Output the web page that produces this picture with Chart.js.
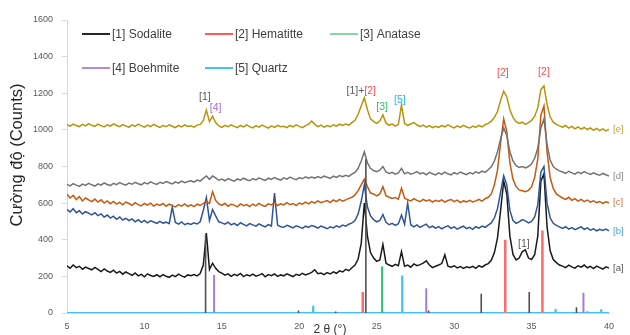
<!DOCTYPE html>
<html>
<head>
<meta charset="utf-8">
<script src="https://cdn.jsdelivr.net/npm/chart.js@4.4.0/dist/chart.umd.min.js"></script>
<style>
  html, body { margin: 0; padding: 0; background: #fff; }
</style>
</head>
<body>
<canvas id="xrd" width="630" height="335"></canvas>
<script>
// 2 theta sampling grid (degrees)
const twoTheta = [
  5, 5.2, 5.4, 5.6, 5.8, 6, 6.2, 6.4, 6.6, 6.8,
  7, 7.2, 7.4, 7.6, 7.8, 8, 8.2, 8.4, 8.6, 8.8,
  9, 9.2, 9.4, 9.6, 9.8, 10, 10.2, 10.4, 10.6, 10.8,
  11, 11.2, 11.4, 11.6, 11.8, 12, 12.2, 12.4, 12.6, 12.8,
  13, 13.2, 13.4, 13.6, 13.8, 14, 14.2, 14.4, 14.6, 14.8,
  15, 15.2, 15.4, 15.6, 15.8, 16, 16.2, 16.4, 16.6, 16.8,
  17, 17.2, 17.4, 17.6, 17.8, 18, 18.2, 18.4, 18.6, 18.8,
  19, 19.2, 19.4, 19.6, 19.8, 20, 20.2, 20.4, 20.6, 20.8,
  21, 21.2, 21.4, 21.6, 21.8, 22, 22.2, 22.4, 22.6, 22.8,
  23, 23.2, 23.4, 23.6, 23.8, 24, 24.2, 24.4, 24.6, 24.8,
  25, 25.2, 25.4, 25.6, 25.8, 26, 26.2, 26.4, 26.6, 26.8,
  27, 27.2, 27.4, 27.6, 27.8, 28, 28.2, 28.4, 28.6, 28.8,
  29, 29.2, 29.4, 29.6, 29.8, 30, 30.2, 30.4, 30.6, 30.8,
  31, 31.2, 31.4, 31.6, 31.8, 32, 32.2, 32.4, 32.6, 32.8,
  33, 33.2, 33.4, 33.6, 33.8, 34, 34.2, 34.4, 34.6, 34.8,
  35, 35.2, 35.4, 35.6, 35.8, 36, 36.2, 36.4, 36.6, 36.8,
  37, 37.2, 37.4, 37.6, 37.8, 38, 38.2, 38.4, 38.6, 38.8,
  39, 39.2, 39.4, 39.6, 39.8, 40
];

// measured patterns, counts
const sampleA = [
  258,244,262,248,255,239,251,243,236,249,
  238,226,241,229,222,234,218,227,212,224,
  215,206,219,203,211,198,214,205,200,209,
  198,210,201,195,207,199,212,203,196,208,
  204,210,203,215,262,437,238,272,244,226,
  218,207,214,200,211,204,216,199,209,203,
  212,201,207,215,198,210,204,213,200,208,
  203,214,206,199,211,205,217,208,214,222,
  236,215,218,209,221,213,225,217,230,224,
  238,231,247,262,295,380,600,420,330,300,
  282,290,375,272,262,255,266,258,335,255,
  262,250,268,258,264,272,285,262,248,255,
  262,270,318,256,250,258,246,254,243,252,
  247,255,244,258,250,262,270,288,330,410,
  560,720,650,420,320,290,300,335,345,300,
  292,318,420,720,760,470,340,292,275,262,
  256,248,261,252,245,258,250,262,247,255,
  243,256,248,240,252,246
];
const sampleB = [
  565,552,570,548,558,541,553,545,536,548,
  532,541,524,535,518,529,512,524,508,517,
  505,514,498,509,495,506,492,503,497,489,
  500,491,496,488,578,494,485,497,482,490,
  484,492,486,498,560,630,505,565,530,498,
  492,485,496,481,490,478,493,484,476,488,
  481,474,487,478,470,483,475,655,480,471,
  468,479,472,465,476,470,462,474,467,478,
  472,464,475,468,460,471,465,476,469,480,
  474,485,492,505,540,610,700,580,530,510,
  498,505,538,495,482,490,478,488,535,485,
  600,482,470,481,468,477,485,466,474,463,
  472,460,469,476,462,470,458,467,474,461,
  468,457,471,463,475,468,480,492,520,570,
  660,750,700,560,505,490,498,510,503,492,
  500,525,590,770,800,600,520,490,478,470,
  462,471,458,466,455,463,470,457,465,452,
  460,449,457,451,458,448
];
const sampleC = [
  648,628,642,619,635,612,628,618,608,622,
  606,618,600,612,597,609,595,604,591,606,
  598,588,603,592,585,598,589,600,584,595,
  588,598,583,594,586,579,592,584,596,582,
  590,581,594,587,598,610,598,662,615,596,
  588,599,583,594,589,580,596,586,592,581,
  595,585,599,588,582,596,590,602,587,596,
  590,603,592,598,587,600,594,605,596,608,
  600,612,602,608,614,603,617,608,620,611,
  618,626,632,645,668,700,730,690,655,650,
  640,650,690,640,632,625,630,622,682,628,
  618,612,624,615,608,620,612,618,606,615,
  609,618,605,614,620,608,616,603,612,607,
  615,606,612,620,611,624,632,650,700,780,
  930,1060,990,820,730,690,672,668,662,670,
  690,740,840,1080,1130,880,740,680,650,638,
  628,620,632,615,624,611,620,608,617,605,
  612,603,609,598,607,602
];
const sampleD = [
  702,694,706,698,691,704,697,708,700,693,
  705,698,710,702,696,708,701,712,704,698,
  710,703,714,706,700,712,705,716,708,702,
  714,707,718,711,705,716,709,720,712,718,
  722,715,726,720,735,748,730,748,738,725,
  731,722,734,726,720,732,725,736,728,722,
  734,727,738,730,724,736,729,740,732,726,
  738,731,742,734,728,740,733,744,736,742,
  736,745,738,748,741,735,747,740,751,744,
  752,746,758,768,790,830,880,820,790,778,
  772,780,800,770,762,768,758,765,790,760,
  768,758,764,772,760,766,755,768,760,754,
  765,757,769,760,754,766,759,770,762,756,
  767,760,771,764,775,768,782,798,830,880,
  950,1010,970,880,830,805,795,800,792,800,
  815,845,900,1010,1060,920,835,800,785,776,
  770,762,774,765,758,769,761,772,764,757,
  766,758,752,762,755,748
];
const sampleE = [
  1028,1020,1032,1024,1018,1030,1022,1034,1025,1019,
  1031,1023,1016,1028,1021,1033,1024,1017,1029,1022,
  1014,1027,1019,1031,1022,1015,1026,1018,1030,1021,
  1013,1025,1017,1028,1020,1012,1024,1016,1027,1019,
  1022,1015,1026,1030,1050,1108,1045,1075,1040,1022,
  1014,1025,1017,1028,1019,1012,1024,1016,1027,1018,
  1011,1023,1015,1026,1018,1010,1022,1014,1025,1017,
  1020,1012,1024,1016,1027,1019,1012,1023,1030,1048,
  1030,1018,1026,1015,1024,1017,1028,1020,1031,1024,
  1032,1026,1040,1052,1085,1130,1175,1110,1060,1045,
  1035,1048,1082,1038,1025,1032,1020,1030,1135,1035,
  1025,1032,1040,1028,1018,1026,1015,1023,1012,1020,
  1013,1024,1016,1027,1018,1011,1022,1014,1025,1016,
  1010,1021,1013,1024,1016,1028,1035,1048,1068,1100,
  1160,1212,1180,1110,1068,1045,1035,1042,1030,1040,
  1052,1075,1120,1220,1240,1140,1070,1042,1030,1022,
  1015,1024,1010,1019,1006,1016,1004,1013,1002,1011,
  998,1008,996,1005,994,1002
];

// reference stick patterns
const sodaliteAngles = [13.95, 19.95, 22.35, 24.3, 28.35, 31.75, 34.85, 37.9];
const sodaliteHeights = [430, 14, 8, 840, 14, 105, 115, 32];
const hematiteAngles = [24.1, 33.3, 35.7];
const hematiteHeights = [115, 400, 450];
const anataseAngles = [25.35];
const anataseHeights = [255];
const boehmiteAngles = [14.5, 28.2, 38.35];
const boehmiteHeights = [207, 135, 110];
const quartzAngles = [20.9, 26.65, 36.55, 38.6, 39.5];
const quartzHeights = [40, 205, 22, 10, 20];

const sampleNames = ['[a]', '[b]', '[c]', '[d]', '[e]'];
const phaseNames = ['[1] Sodalite', '[2] Hematitte', '[3] Anatase', '[4] Boehmite', '[5] Quartz'];

const FONT = '"Liberation Sans", Arial, sans-serif';

function pattern(values) {
  return twoTheta.map((t, i) => ({ x: t, y: values[i] }));
}

function sticks(angles, heights, baseline) {
  const pts = baseline ? [{ x: 5, y: 0 }] : [];
  angles.forEach((a, i) => {
    pts.push({ x: a, y: 0 }, { x: a, y: heights[i] });
    pts.push(baseline ? { x: a, y: 0 } : { x: a, y: null });
  });
  if (baseline) pts.push({ x: 40, y: 0 });
  return pts;
}

const sampleColors = ['#1a1a1a', '#2f5597', '#c55a11', '#737373', '#b8930c'];
const sampleLabelColors = ['#555555', '#45a8e0', '#c8794a', '#8c8c8c', '#c9a430'];
const samples = [sampleA, sampleB, sampleC, sampleD, sampleE];

// legend line colours, same order as phaseNames
const legendColors = ['#262626', '#ff5a5a', '#86d4aa', '#b48cdc', '#45c0f0'];

// peak tags: [2theta, counts, [text, colour]...]
const peakTags = [
  [13.9, 1180, [['[1]', '#595959']]],
  [14.6, 1118, [['[4]', '#a070d0']]],
  [24.0, 1212, [['[1]+', '#595959'], ['[2]', '#ff4d4d']]],
  [25.35, 1125, [['[3]', '#2fbf6f']]],
  [26.5, 1163, [['[5]', '#2fb5ee']]],
  [33.15, 1311, [['[2]', '#ff4d4d']]],
  [35.8, 1316, [['[2]', '#ff4d4d']]],
  [34.5, 377, [['[1]', '#595959']]]
];

const overlay = {
  id: 'overlay',
  afterDatasetsDraw(chart) {
    const { ctx, chartArea: area, scales: { x, y } } = chart;
    ctx.save();

    // legend, 3 columns x 2 rows inside the plot
    ctx.font = '12px ' + FONT;
    ctx.textBaseline = 'middle';
    ctx.textAlign = 'left';
    const cols = [area.left + 15, area.left + 138, area.left + 263];
    const rows = [area.top + 14, area.top + 48];
    phaseNames.forEach((name, i) => {
      const lx = cols[i % 3], ly = rows[Math.floor(i / 3)];
      ctx.strokeStyle = legendColors[i];
      ctx.lineWidth = 2;
      ctx.beginPath();
      ctx.moveTo(lx, ly);
      ctx.lineTo(lx + 28, ly);
      ctx.stroke();
      ctx.fillStyle = '#404040';
      ctx.fillText(name, lx + 30, ly + 1);
    });

    // peak tags
    ctx.font = '10.5px ' + FONT;
    peakTags.forEach(([t, c, parts]) => {
      const total = parts.reduce((w, p) => w + ctx.measureText(p[0]).width, 0);
      let px = x.getPixelForValue(t) - total / 2;
      const py = y.getPixelForValue(c);
      parts.forEach(([txt, col]) => {
        ctx.fillStyle = col;
        ctx.fillText(txt, px, py);
        px += ctx.measureText(txt).width;
      });
    });

    // sample labels at the right end
    ctx.font = '9.5px ' + FONT;
    samples.forEach((s, i) => {
      ctx.fillStyle = sampleLabelColors[i];
      ctx.fillText(sampleNames[i], area.right + 4, y.getPixelForValue(s[s.length - 1]));
    });

    // axis titles
    ctx.fillStyle = '#333333';
    ctx.textAlign = 'center';
    ctx.font = '12px ' + FONT;
    ctx.fillText('2 θ (°)', (area.left + area.right) / 2 - 8, 330);
    ctx.translate(17, 155);
    ctx.rotate(-Math.PI / 2);
    ctx.fillStyle = '#262626';
    ctx.font = '16.5px ' + FONT;
    ctx.fillText('Cường độ (Counts)', 0, 0);
    ctx.restore();
  }
};

const stickSet = (label, data, color, width) => ({
  label, data, borderColor: color, borderWidth: width,
  pointRadius: 0, spanGaps: false, fill: false
});

new Chart(document.getElementById('xrd'), {
  type: 'line',
  data: {
    datasets: [
      stickSet('Hematite', sticks(hematiteAngles, hematiteHeights), '#ff6b6b', 2.5),
      stickSet('Anatase', sticks(anataseAngles, anataseHeights), '#2fbf6f', 2),
      stickSet('Boehmite', sticks(boehmiteAngles, boehmiteHeights), '#a57dd6', 2),
      stickSet('Sodalite', sticks(sodaliteAngles, sodaliteHeights), '#505050', 1.6),
      stickSet('Quartz', sticks(quartzAngles, quartzHeights, true), '#3fc0f0', 2.2),
      ...samples.slice().reverse().map((s, k) => {
        const i = samples.length - 1 - k;
        return {
          label: sampleNames[i],
          data: pattern(s),
          borderColor: sampleColors[i],
          borderWidth: 1.5,
          pointRadius: 0,
          fill: false
        };
      })
    ]
  },
  options: {
    responsive: false,
    animation: false,
    layout: { padding: { top: 20, right: 21, left: 0, bottom: 0 } },
    plugins: { legend: { display: false }, tooltip: { enabled: false } },
    elements: { line: { tension: 0 } },
    scales: {
      x: {
        type: 'linear', min: 5, max: 40,
        ticks: { stepSize: 5, color: '#595959', font: { size: 9, family: FONT }, padding: 0, maxRotation: 0 },
        grid: { display: false },
        border: { color: '#d9d9d9' },
        afterFit(s) { s.height = 22; }
      },
      y: {
        min: 0, max: 1600,
        ticks: {
          stepSize: 200, color: '#595959', font: { size: 9, family: FONT }, padding: 9,
          callback: v => String(v)
        },
        grid: { drawOnChartArea: false, color: '#d9d9d9', tickLength: 5 },
        border: { color: '#d9d9d9' },
        afterFit(s) { s.width = 67; }
      }
    }
  },
  plugins: [overlay]
});
</script>
</body>
</html>
